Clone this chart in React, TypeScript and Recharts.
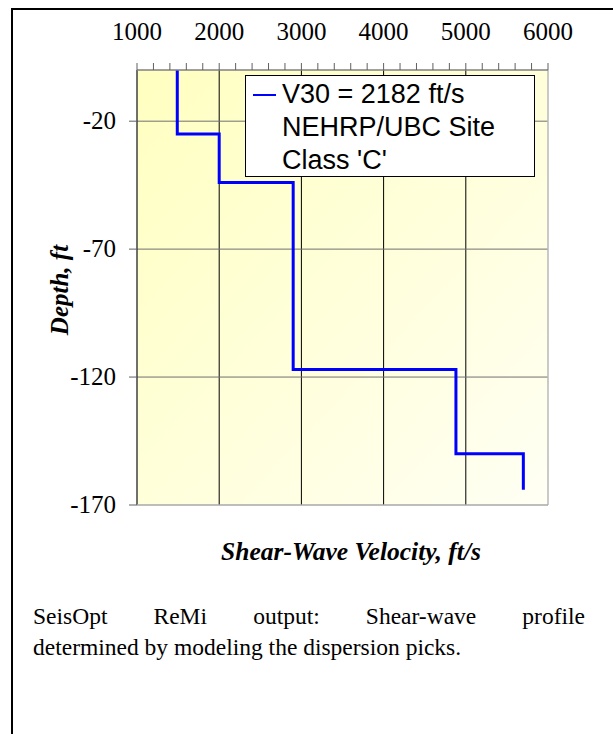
import React from "react";
import { LineChart, Line, XAxis, YAxis, ReferenceLine, ReferenceArea } from "recharts";

// ---- data ----
const layerVelocity = [1490, 2000, 2900, 4880, 5700]; // ft/s
const layerTop = [0, -25, -44, -117, -150]; // ft
const layerBottom = [-25, -44, -117, -150, -164]; // ft
const xTicks = [1000, 1200, 1400, 1600, 1800, 2000, 2200, 2400, 2600, 2800, 3000, 3200, 3400, 3600, 3800, 4000, 4200, 4400, 4600, 4800, 5000, 5200, 5400, 5600, 5800, 6000];
const xMajor = [1000, 2000, 3000, 4000, 5000, 6000];
const yTicks = [-20, -70, -120, -170];
const xGrid = [2000, 3000, 4000, 5000];
const yGrid = [-20, -70, -120];
const legendLines = ["V30 = 2182 ft/s", "NEHRP/UBC Site", "Class 'C'"];
const xTitle = "Shear-Wave Velocity, ft/s";
const yTitle = "Depth, ft";
const captionLine1 = "SeisOpt ReMi output: Shear-wave profile";
const captionLine2 = "determined by modeling the dispersion picks.";

const profile: { v: number; d: number }[] = [];
layerVelocity.forEach((v, i) => {
  profile.push({ v, d: layerTop[i] });
  profile.push({ v, d: layerBottom[i] });
});

// ---- layout ----
const W = 613;
const H = 600;
const PL = 137, PR = 548, PT = 70, PB = 505;
const XAXIS_H = 30;
const YAXIS_W = 60;

const serif = "'Liberation Serif', 'Times New Roman', serif";
const sans = "'Liberation Sans', Arial, sans-serif";

const XTick = (props: any) => {
  const x = props.payload.coordinate;
  const val = props.payload.value;
  const major = xMajor.includes(val);
  return (
    <g>
      <line x1={x} x2={x} y1={PT} y2={PT - 7} stroke="#606060" strokeWidth={1} />
      {major && (
        <text x={x} y={40} textAnchor="middle" fontFamily={serif} fontSize={25} fill="#000">
          {val}
        </text>
      )}
    </g>
  );
};

const YTick = (props: any) => {
  const y = props.payload.coordinate;
  return (
    <g>
      <line x1={PL - 8} x2={PL} y1={y} y2={y} stroke="#606060" strokeWidth={1} />
      <text x={116} y={y + 8} textAnchor="end" fontFamily={serif} fontSize={25} fill="#000">
        {props.payload.value}
      </text>
    </g>
  );
};

const LegendBox = () => (
  <div
    style={{
      position: "absolute",
      left: 245,
      top: 75,
      width: 290,
      height: 102,
      border: "1px solid #000",
      background: "#fff",
      boxSizing: "border-box",
      fontFamily: sans,
      fontSize: 27,
      lineHeight: "33px",
      color: "#000",
      paddingTop: 2,
      paddingLeft: 36,
      textAlign: "left",
    }}
  >
    <div style={{ position: "absolute", left: 7, top: 18, width: 23, height: 2, background: "#0000FF" }} />
    {legendLines.map((t) => (
      <div key={t} style={{ whiteSpace: "nowrap" }}>{t}</div>
    ))}
  </div>
);

export default function App() {
  return (
    <div style={{ position: "absolute", left: 0, top: 0, width: W, height: 734, background: "#fff", overflow: "hidden" }}>
      <div
        style={{
          position: "absolute",
          left: 11,
          top: 8,
          width: 700,
          height: 800,
          borderLeft: "2px solid #000",
          borderTop: "2px solid #000",
        }}
      />
      <div style={{ position: "absolute", left: 0, top: 0 }}>
        <LineChart
          width={W}
          height={H}
          data={profile}
          margin={{ top: PT - XAXIS_H, left: PL - YAXIS_W, right: W - PR, bottom: H - PB }}
        >
          <defs>
            <linearGradient id="bgGrad" x1="0" y1="0" x2="1" y2="1">
              <stop offset="0%" stopColor="#FFFFC0" />
              <stop offset="100%" stopColor="#FFFFF4" />
            </linearGradient>
          </defs>
          <XAxis
            type="number"
            dataKey="v"
            orientation="top"
            domain={[1000, 6000]}
            ticks={xTicks}
            interval={0}
            height={XAXIS_H}
            axisLine={{ stroke: "#808080", strokeWidth: 1.5 }}
            tickLine={false}
            tick={<XTick />}
          />
          <YAxis
            type="number"
            dataKey="d"
            domain={[-170, 0]}
            ticks={yTicks}
            interval={0}
            width={YAXIS_W}
            axisLine={false}
            tickLine={false}
            tick={<YTick />}
          />
          <ReferenceArea x1={1000} x2={6000} y1={-170} y2={0} fill="url(#bgGrad)" fillOpacity={1} stroke="none" />
          {xGrid.map((v) => (
            <ReferenceLine key={"x" + v} x={v} stroke="#000" strokeWidth={1} />
          ))}
          {yGrid.map((v) => (
            <ReferenceLine key={"y" + v} y={v} stroke="#707070" strokeWidth={1} />
          ))}
          <ReferenceLine x={1000} stroke="#404040" strokeWidth={1.5} />
          <ReferenceLine x={6000} stroke="#B8B8B8" strokeWidth={1.5} />
          <ReferenceLine y={-170} stroke="#A8A8A8" strokeWidth={1.5} />
          <Line
            type="linear"
            dataKey="d"
            stroke="#0000FF"
            strokeWidth={3}
            dot={false}
            isAnimationActive={false}
            name="V30 = 2182 ft/s"
          />
        </LineChart>
      </div>
      <LegendBox />
      <div
        style={{
          position: "absolute",
          left: 60,
          top: 290,
          transform: "translate(-50%, -50%) rotate(-90deg)",
          fontFamily: serif,
          fontWeight: "bold",
          fontStyle: "italic",
          fontSize: 25,
          whiteSpace: "nowrap",
        }}
      >
        {yTitle}
      </div>
      <div
        style={{
          position: "absolute",
          left: 351,
          top: 552,
          transform: "translate(-50%, -50%)",
          fontFamily: serif,
          fontWeight: "bold",
          fontStyle: "italic",
          fontSize: 25.5,
          whiteSpace: "nowrap",
        }}
      >
        {xTitle}
      </div>
      <div
        style={{
          position: "absolute",
          left: 33,
          top: 601,
          width: 552,
          fontFamily: serif,
          fontSize: 23.5,
          lineHeight: "31px",
          color: "#000",
        }}
      >
        <div style={{ textAlign: "justify", textAlignLast: "justify" }}>{captionLine1}</div>
        <div style={{ textAlign: "left" }}>{captionLine2}</div>
      </div>
    </div>
  );
}
